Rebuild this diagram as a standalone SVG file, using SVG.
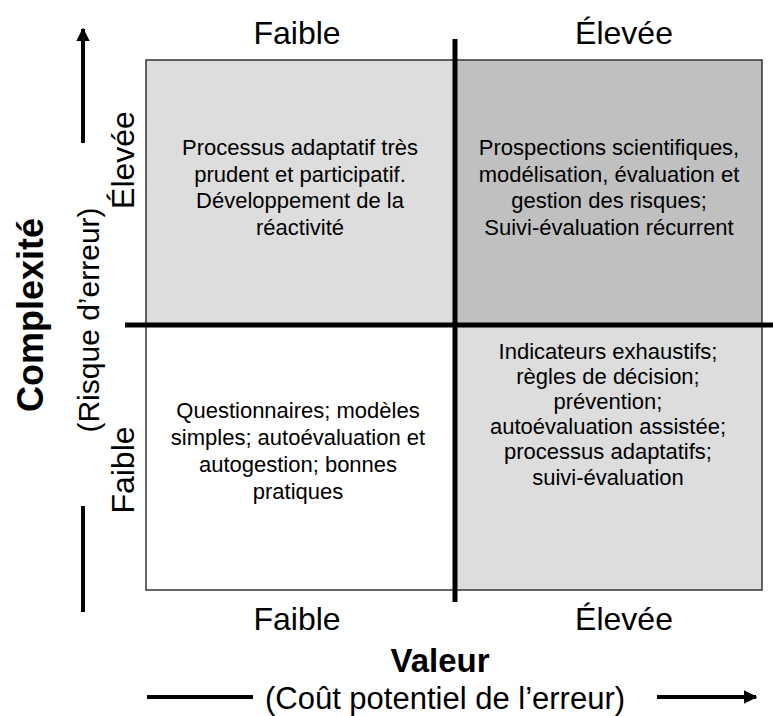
<svg xmlns="http://www.w3.org/2000/svg" width="773" height="716" viewBox="0 0 773 716">
  <defs>
    <style>
      text { font-family: "Liberation Sans", Arial, sans-serif; fill: #000; }
      .axis { font-size: 32px; text-anchor: middle; }
      .title { font-size: 33px; font-weight: bold; text-anchor: middle; }
      .title-v { font-size: 36px; font-weight: bold; text-anchor: middle; }
      .sub { font-size: 30px; text-anchor: middle; }
      .sub-h { font-size: 31px; text-anchor: middle; }
      .cell { font-size: 22px; text-anchor: middle; }
      .bar { stroke: #000; stroke-width: 4; fill: none; }
      .divider { stroke: #000; stroke-width: 5; fill: none; }
    </style>
    <marker id="head" viewBox="0 0 10 10" refX="9" refY="5" markerWidth="3.4" markerHeight="3.4" orient="auto" markerUnits="strokeWidth">
      <path d="M0,0 L10,5 L0,10 Z" fill="#000"/>
    </marker>
  </defs>

  <rect width="773" height="716" fill="#fff"/>

  <!-- Quadrants -->
  <g id="q-high-low">
    <rect x="146" y="60" width="309" height="265" fill="#dddddd"/>
    <text class="cell" x="300" y="155">Processus adaptatif très</text>
    <text class="cell" x="300" y="182">prudent et participatif.</text>
    <text class="cell" x="300" y="208">Développement de la</text>
    <text class="cell" x="300" y="235">réactivité</text>
  </g>
  <g id="q-high-high">
    <rect x="455" y="60" width="307" height="265" fill="#c0c0c0"/>
    <text class="cell" x="609" y="155">Prospections scientifiques,</text>
    <text class="cell" x="609" y="182">modélisation, évaluation et</text>
    <text class="cell" x="609" y="208">gestion des risques;</text>
    <text class="cell" x="609" y="235">Suivi-évaluation récurrent</text>
  </g>
  <g id="q-low-low">
    <rect x="146" y="325" width="309" height="265" fill="#ffffff"/>
    <text class="cell" x="298" y="418">Questionnaires; modèles</text>
    <text class="cell" x="298" y="445">simples; autoévaluation et</text>
    <text class="cell" x="298" y="472">autogestion; bonnes</text>
    <text class="cell" x="298" y="499">pratiques</text>
  </g>
  <g id="q-low-high">
    <rect x="455" y="325" width="307" height="265" fill="#dddddd"/>
    <text class="cell" x="608" y="359">Indicateurs exhaustifs;</text>
    <text class="cell" x="608" y="384">règles de décision;</text>
    <text class="cell" x="608" y="409">prévention;</text>
    <text class="cell" x="608" y="434">autoévaluation assistée;</text>
    <text class="cell" x="608" y="459">processus adaptatifs;</text>
    <text class="cell" x="608" y="485">suivi-évaluation</text>
  </g>

  <!-- Outer frame -->
  <rect x="146" y="60" width="616" height="530" fill="none" stroke="#333" stroke-width="1.5"/>

  <!-- Axes and dividers -->
  <g id="connectors">
    <line class="divider" x1="455" y1="39" x2="455" y2="602"/>
    <line class="divider" x1="125" y1="325" x2="773" y2="325"/>
    <line class="bar" x1="83" y1="143" x2="83" y2="29" marker-end="url(#head)"/>
    <line class="bar" x1="83" y1="506" x2="83" y2="612"/>
    <line class="bar" x1="147" y1="697" x2="253" y2="697"/>
    <line class="bar" x1="657" y1="697" x2="756" y2="697" marker-end="url(#head)"/>
  </g>

  <!-- Axis labels -->
  <g id="labels">
    <text class="axis" x="297" y="44">Faible</text>
    <text class="axis" x="624" y="44">Élevée</text>
    <text class="axis" x="297" y="630">Faible</text>
    <text class="axis" x="624" y="630">Élevée</text>
    <text class="title" x="440" y="672">Valeur</text>
    <text class="sub-h" x="445" y="709">(Coût potentiel de l’erreur)</text>
    <text class="axis" transform="translate(134,160) rotate(-90)">Élevée</text>
    <text class="axis" transform="translate(134,470) rotate(-90)">Faible</text>
    <text class="title-v" transform="translate(43,315) rotate(-90)">Complexité</text>
    <text class="sub" transform="translate(99,320) rotate(-90)">(Risque d’erreur)</text>
  </g>
</svg>
